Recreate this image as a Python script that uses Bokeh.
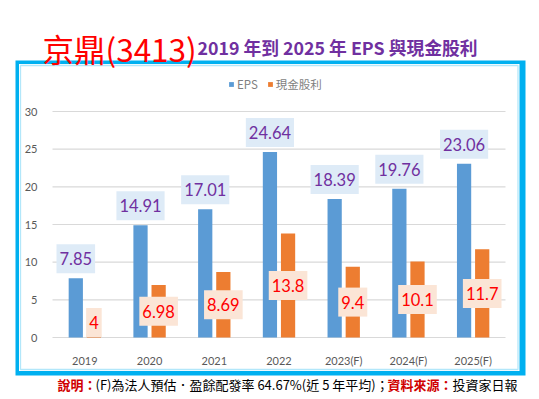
from bokeh.plotting import figure
from bokeh.models import (ColumnDataSource, Range1d, Label, BoxAnnotation,
                          Legend, LegendItem, FixedTicker)
from bokeh.transform import dodge
from bokeh.core.properties import value
from bokeh.embed import file_html
from bokeh.resources import INLINE

# ---- data ----
years = ["2019", "2020", "2021", "2022", "2023(F)", "2024(F)", "2025(F)"]
eps = [7.85, 14.91, 17.01, 24.64, 18.39, 19.76, 23.06]
dividend = [4, 6.98, 8.69, 13.8, 9.4, 10.1, 11.7]          # label values
dividend_bar = [0.5, 6.98, 8.69, 13.8, 9.4, 10.1, 11.7]    # bar heights as drawn
eps_labels = ["7.85", "14.91", "17.01", "24.64", "18.39", "19.76", "23.06"]
dividend_labels = ["4", "6.98", "8.69", "13.8", "9.4", "10.1", "11.7"]
y_ticks = [0, 5, 10, 15, 20, 25, 30]

n = len(years)
xpos = [i + 0.5 for i in range(n)]
src = ColumnDataSource(dict(
    x=xpos, year=years, eps=eps, div=dividend, div_bar=dividend_bar,
    div_mid=[d / 2 for d in dividend],
    eps_lab=eps_labels, div_lab=dividend_labels,
))

CJK = "Noto Sans CJK TC"
NUM = "Lato"

W, H = 539, 399
# plot area: x 52..505 px <-> 0..n ; y: 0 at 337 px, 7.5333 px per unit
PX_X = (505 - 52) / n
PX_Y = (337 - 111) / 30
p = figure(x_range=Range1d(-52 / PX_X, n + (W - 505) / PX_X),
           y_range=Range1d(-(H - 337) / PX_Y, 337 / PX_Y),
           width=W, height=H, output_backend="svg", toolbar_location=None,
           min_border=0, min_border_left=0, min_border_right=0,
           min_border_top=0, min_border_bottom=0)
p.outline_line_color = None
p.background_fill_color = "white"
p.border_fill_color = "white"

def sx(px):
    return px

def sy(py):
    return H - py

def box(l, t, r, b, **kw):
    return BoxAnnotation(left=sx(l), right=sx(r), top=sy(t), bottom=sy(b),
                         left_units="screen", right_units="screen",
                         top_units="screen", bottom_units="screen", level="image", **kw)

# ---- borders ----
p.add_layout(box(15, 60, 525, 375, fill_color="#00B0F0", fill_alpha=1, line_color=None))
p.add_layout(box(18.5, 63.5, 519, 370.5, fill_color="white", fill_alpha=1, line_color=None))
p.add_layout(box(20, 65, 517.5, 369, fill_alpha=0, line_color="#00B0F0", line_width=1.3))

# ---- gridlines ----
p.segment(x0=0, x1=n, y0=y_ticks, y1=y_ticks, line_color="#D9D9D9", line_width=1.2)

# ---- bars ----
r_eps = p.vbar(x=dodge("x", -0.14), top="eps", width=0.22, source=src,
               fill_color="#5B9BD5", line_color=None)
r_div = p.vbar(x=dodge("x", 0.14), top="div_bar", width=0.22, source=src,
               fill_color="#ED7D31", line_color=None)

# ---- data labels ----
pad = dict(left=3, right=3, top=8, bottom=8)
p.text(x=dodge("x", -0.14), y="eps", text="eps_lab", source=src,
       text_align="center", text_baseline="middle", y_offset=-19.5,
       text_font=value(NUM), text_font_size="16.5px", text_color="#7030A0",
       background_fill_color="#DEEBF7", padding=pad)
p.text(x=dodge("x", 0.14), y="div_mid", text="div_lab", source=src,
       text_align="center", text_baseline="middle",
       text_font=value(NUM), text_font_size="16.5px", text_color="#FF0000",
       background_fill_color="#FBE5D6", padding=pad)

# ---- axes ----
p.xgrid.grid_line_color = None
p.ygrid.grid_line_color = None
p.yaxis.ticker = FixedTicker(ticks=y_ticks)
p.xaxis.ticker = FixedTicker(ticks=xpos)
p.xaxis.major_label_overrides = {x: y for x, y in zip(xpos, years)}
p.xaxis.fixed_location = 0
p.yaxis.fixed_location = 0
for ax in (p.xaxis, p.yaxis):
    ax.axis_line_color = None
    ax.major_tick_line_color = None
    ax.minor_tick_line_color = None
    ax.major_label_text_color = "#595959"
    ax.major_label_text_font = NUM
    ax.major_label_text_font_size = "11px"
p.yaxis.major_label_standoff = 9
p.xaxis.major_label_standoff = 10

# ---- legend ----
legend = Legend(items=[LegendItem(label="EPS", renderers=[r_eps]),
                       LegendItem(label="現金股利", renderers=[r_div])],
                orientation="horizontal", location=(sx(228), sy(92)),
                glyph_width=6, glyph_height=6, label_height=12, label_width=10,
                label_standoff=3, spacing=9, padding=0, margin=0,
                border_line_color=None, background_fill_alpha=0,
                label_text_font=CJK, label_text_font_size="11.5px", label_text_color="#7F7F7F")
p.add_layout(legend)

# ---- titles ----
p.add_layout(Label(x=sx(42), y=sy(47), x_units="screen", y_units="screen",
                   text="京鼎(3413)", text_font=CJK, text_font_size="31.5px",
                   text_color="#FF0000", text_baseline="alphabetic"))
p.add_layout(Label(x=sx(197), y=sy(46), x_units="screen", y_units="screen",
                   text="2019 年到 2025 年 EPS 與現金股利", text_font=CJK, text_font_size="17.8px",
                   text_font_style="bold", text_color="#7030A0", text_baseline="alphabetic"))

# ---- footnote ----
foot = [("說明：", 57, "#D00000", "bold"),
        ("(F)為法人預估．盈餘配發率 64.67%(近 5 年平均)；", 95, "#000000", "normal"),
        ("資料來源：", 387, "#D00000", "bold"),
        ("投資家日報", 452, "#000000", "normal")]
for txt, x0, col, sty in foot:
    p.add_layout(Label(x=sx(x0), y=sy(384), x_units="screen", y_units="screen",
                       text=txt, text_font=CJK, text_font_size="13px", text_color=col,
                       text_font_style=sty, text_baseline="middle"))

open("out.html", "w").write(file_html(p, INLINE))
